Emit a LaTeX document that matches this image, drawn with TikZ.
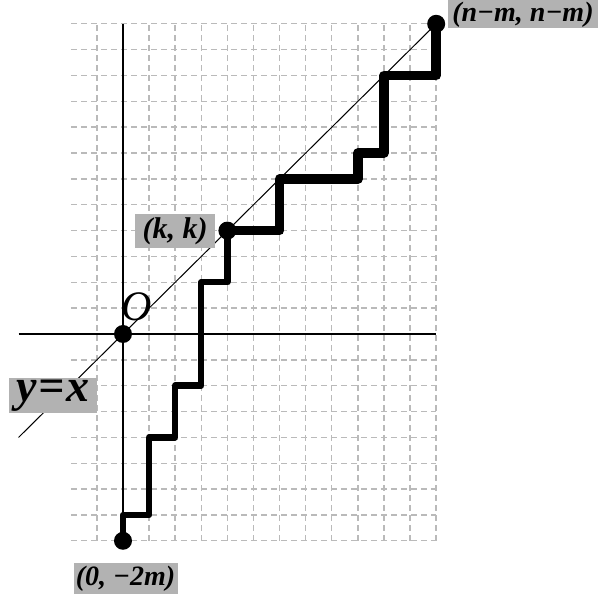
\documentclass[tikz,border=0pt]{standalone}
\usepackage{fontspec}
\setmainfont{Liberation Serif}
\definecolor{labelgray}{gray}{0.7}
\begin{document}
\begin{tikzpicture}[x=13.05pt,y=12.925pt,
  gridline/.style={draw=black!27, line width=0.7pt, dash pattern=on 3pt off 2pt},
  axisline/.style={line width=0.6pt},
  diagline/.style={line width=0.5pt},
  walkA/.style={line width=3.2pt, line join=round, line cap=round},
  walkB/.style={line width=4.8pt, line join=round, line cap=round},
  dot/.style={circle, fill=black, inner sep=0pt, minimum size=9pt},
  lbl/.style={fill=labelgray, inner sep=0pt, font=\bfseries\itshape\fontsize{15}{17}\selectfont},
  lblsmall/.style={lbl, font=\bfseries\itshape\fontsize{14}{16}\selectfont},
]
\useasboundingbox (-4.7126,12.9207) rectangle (18.161,-10.329);
% grid
\foreach \y in {-8,...,12} \draw[gridline] (-2,\y) -- (12,\y);
\foreach \x in {-1,...,12} \draw[gridline] (\x,-8) -- (\x,12);
% axes
\draw[axisline] (-4,0) -- (12,0);
\draw[axisline] (0,-8) -- (0,12);
\draw[diagline] (-4,-4) -- (12,12);
% points
\node[dot] (O) at (0,0) {};
\node[dot] (S) at (0,-8) {};
\node[dot] (K) at (4,4) {};
\node[dot] (T) at (12,12) {};
% walk
\draw[walkA] (S.center) -- (0,-7) -- (1,-7) -- (1,-4) -- (2,-4) -- (2,-2) -- (3,-2) -- (3,2) -- (4,2) -- (K.center);
\draw[walkB] (K.center) -- (6,4) -- (6,6) -- (9,6) -- (9,7) -- (10,7) -- (10,10) -- (12,10) -- (T.center);
% labels
\node (Olab) at (0.54,1.04) {\itshape\fontsize{21}{23}\selectfont O};
\node[lbl, minimum width=40pt, minimum height=17pt] (Klab) at (2.0,3.98) {(k, k)};
\node[lblsmall, minimum height=14pt, inner xsep=2pt, anchor=north west] (Tlab) at (12.45,12.9207) {(n−m, n−m)};
\node[lblsmall, minimum width=52pt, minimum height=15.5pt] (Slab) at (0.1,-9.46) {(0, −2m)};
\node[lbl, minimum width=44pt, minimum height=17.5pt, font=\bfseries\itshape\fontsize{23}{25}\selectfont] (Ylab) at (-2.68,-2.38) {y\kern1pt=\kern1pt x};
\end{tikzpicture}
\end{document}
